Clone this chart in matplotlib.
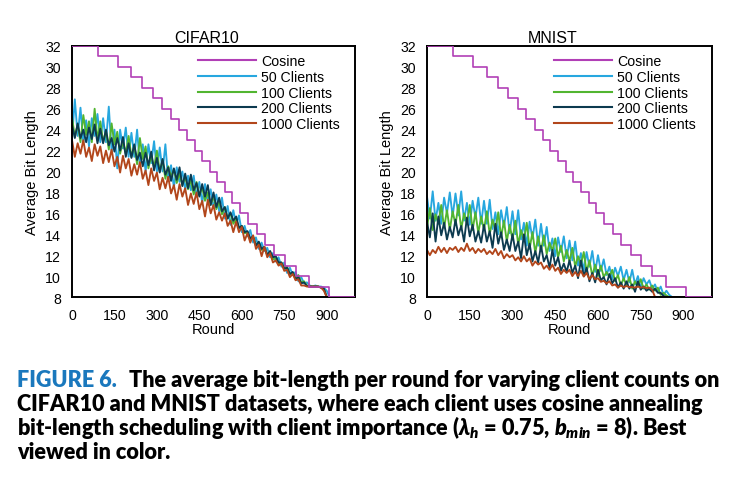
import numpy as np
import matplotlib
matplotlib.use("Agg")
import matplotlib.pyplot as plt

# noisy client curves every 10 rounds
ROUND_STEP = 10
FINAL_ROUND = 1000
B_MIN = 8

# cosine schedule: level held until the listed round
cosine_levels = list(range(32, 7, -1))
cosine_drops = [92, 161, 209, 249, 285, 318, 349, 378, 406, 433, 460, 487,
                513, 540, 567, 594, 622, 652, 682, 715, 751, 791, 839, 908]

cifar_50 = [23.2, 26.9, 23.4, 26.1, 22.7, 24.9, 22.4, 25.1, 23.4, 25.5,
            22.8, 25.1, 22.8, 26.2, 21.9, 24.0, 20.3, 24.0, 22.2, 24.2,
            21.4, 23.7, 21.4, 24.0, 20.5, 22.6, 20.0, 22.6, 20.8, 22.9,
            20.0, 22.3, 20.0, 22.6, 19.1, 20.6, 18.5, 20.4, 19.0, 20.0,
            18.3, 19.6, 18.2, 19.6, 17.6, 19.0, 17.0, 18.8, 17.2, 18.3,
            16.5, 17.8, 16.2, 17.5, 15.5, 16.7, 14.9, 16.3, 14.9, 15.8,
            14.2, 14.8, 13.8, 14.4, 13.2, 13.7, 12.6, 13.2, 12.4, 12.7,
            11.8, 12.2, 11.4, 11.8, 10.9, 11.3, 10.3, 10.8, 10.1, 10.4,
            9.5, 9.9, 9.3, 9.4, 9.1, 9.0, 9.1, 9.0, 9.0, 8.9,
            8.6, 8.0]
cifar_100 = [25.2, 23.3, 24.5, 22.8, 25.4, 23.5, 24.8, 22.8, 26.0, 23.0,
             24.8, 22.8, 23.9, 22.1, 24.6, 22.6, 23.8, 21.7, 22.9, 21.7,
             23.4, 21.4, 22.5, 20.7, 23.2, 21.2, 22.4, 20.3, 21.5, 20.4,
             22.0, 20.0, 21.1, 19.3, 20.5, 19.5, 20.2, 18.9, 19.8, 18.7,
             19.5, 18.3, 19.2, 17.8, 19.0, 17.7, 18.5, 17.2, 18.0, 16.8,
             17.6, 16.4, 17.1, 15.9, 16.6, 15.5, 16.0, 15.0, 15.5, 14.6,
             14.8, 14.1, 14.2, 13.5, 13.7, 13.0, 13.2, 12.5, 12.6, 12.1,
             12.1, 11.6, 11.7, 11.1, 11.3, 10.8, 10.9, 10.2, 10.3, 9.8,
             10.1, 9.4, 9.5, 9.1, 9.0, 9.0, 9.0, 9.0, 8.9, 8.8,
             8.0]
cifar_200 = [24.5, 23.2, 24.6, 23.2, 24.0, 22.8, 24.2, 23.1, 24.5, 22.7,
             24.1, 22.7, 24.0, 22.5, 23.2, 21.9, 23.2, 22.0, 23.3, 21.4,
             22.7, 21.3, 22.6, 21.1, 21.8, 20.5, 21.8, 20.6, 21.9, 20.1,
             21.3, 19.9, 21.2, 19.7, 20.4, 19.1, 20.3, 19.2, 20.4, 18.6,
             19.8, 18.4, 19.7, 18.2, 18.9, 17.6, 18.8, 17.6, 18.7, 16.8,
             18.0, 16.6, 17.5, 16.2, 16.6, 15.5, 16.1, 15.3, 15.7, 14.6,
             14.8, 14.2, 14.3, 13.6, 13.8, 12.9, 13.3, 12.6, 12.8, 12.0,
             12.4, 11.8, 11.9, 11.3, 11.3, 10.7, 10.8, 10.2, 10.4, 9.7,
             9.9, 9.3, 9.4, 9.05, 9.0, 9.0, 9.0, 9.0, 8.9, 8.8,
             8.0]
cifar_1000 = [23.0, 21.4, 22.7, 21.7, 23.0, 21.4, 22.3, 21.0, 22.6, 21.5,
              22.4, 20.8, 22.0, 20.9, 22.1, 20.5, 21.4, 19.9, 21.5, 20.3,
              21.2, 19.6, 20.7, 19.7, 20.9, 19.3, 20.1, 18.7, 20.3, 19.1,
              19.9, 18.3, 19.4, 18.4, 19.5, 17.9, 18.7, 17.3, 18.8, 17.6,
              18.4, 16.8, 17.9, 16.9, 18.0, 16.4, 17.2, 15.7, 17.3, 16.0,
              16.8, 15.4, 16.1, 15.3, 16.0, 14.8, 15.3, 14.2, 15.2, 14.2,
              14.7, 13.4, 14.1, 13.2, 13.9, 12.6, 13.0, 11.9, 12.8, 11.8,
              12.2, 11.3, 11.5, 11.0, 11.2, 10.5, 10.6, 9.9, 10.2, 9.6,
              9.7, 9.1, 9.1, 9.0, 9.0, 9.0, 9.0, 9.0, 8.9, 8.6,
              8.0]

mnist_50 = [17.6, 15.5, 18.1, 15.3, 17.0, 15.0, 17.5, 16.0, 18.0, 15.7,
            17.9, 15.8, 18.1, 15.3, 17.0, 14.9, 17.2, 15.6, 17.5, 15.0,
            17.2, 15.0, 17.3, 14.5, 16.1, 14.0, 16.3, 14.7, 16.6, 14.1,
            16.2, 14.0, 16.3, 13.5, 15.1, 12.9, 15.2, 13.6, 15.4, 12.9,
            15.0, 12.9, 14.7, 12.4, 13.6, 11.9, 13.7, 12.3, 13.8, 11.7,
            13.4, 11.5, 13.3, 11.0, 12.2, 10.5, 12.3, 10.9, 12.4, 10.4,
            12.0, 10.5, 11.6, 10.1, 10.9, 9.7, 10.8, 10.0, 10.9, 9.6,
            10.6, 9.4, 10.6, 9.2, 10.0, 8.9, 9.8, 9.2, 9.6, 8.8,
            9.2, 8.5, 9.0, 8.2, 8.6, 8.2, 8.0]
mnist_100 = [14.6, 16.5, 14.4, 15.9, 15.0, 16.8, 14.6, 16.3, 14.4, 16.2,
             14.9, 16.8, 14.5, 16.0, 15.0, 16.8, 14.4, 16.1, 14.1, 15.7,
             14.4, 16.2, 14.0, 15.4, 14.4, 16.1, 13.7, 15.3, 13.3, 14.9,
             13.5, 15.3, 13.0, 14.4, 13.4, 15.1, 12.6, 14.2, 12.2, 13.8,
             12.4, 13.9, 12.1, 13.2, 12.4, 13.6, 11.8, 12.9, 11.4, 12.5,
             11.4, 12.7, 10.9, 11.9, 11.1, 12.3, 10.4, 11.5, 10.0, 11.1,
             10.0, 11.0, 9.9, 10.4, 9.9, 10.6, 9.5, 10.1, 9.1, 9.8,
             9.1, 9.9, 8.8, 9.5, 9.0, 9.7, 8.8, 9.2, 8.7, 9.1,
             8.6, 8.9, 8.2, 8.4, 8.15, 8.0]
mnist_200 = [15.2, 13.7, 16.0, 13.3, 15.7, 13.9, 15.1, 13.5, 14.7, 13.7,
             15.4, 13.9, 14.8, 13.3, 15.6, 13.8, 14.9, 13.3, 14.3, 13.2,
             14.9, 13.3, 14.3, 12.7, 15.0, 13.1, 14.2, 12.5, 13.5, 12.4,
             14.0, 12.4, 13.3, 11.7, 14.0, 12.0, 13.1, 11.4, 12.4, 11.3,
             12.9, 11.4, 12.0, 10.8, 12.5, 11.0, 11.8, 10.5, 11.2, 10.4,
             11.5, 10.3, 11.0, 9.8, 11.5, 10.0, 10.8, 9.5, 10.3, 9.4,
             10.6, 9.6, 9.9, 9.2, 10.2, 9.3, 9.8, 8.9, 9.4, 8.8,
             9.5, 8.8, 9.2, 8.5, 9.5, 8.7, 9.0, 8.6, 8.8, 8.5,
             8.8, 8.4, 8.4, 8.1, 8.0]
mnist_1000 = [12.5, 12.0, 12.5, 12.2, 12.8, 12.3, 12.7, 12.2, 12.7, 12.5,
              12.8, 12.3, 12.7, 12.4, 13.1, 12.4, 12.7, 12.2, 12.6, 12.3,
              12.6, 12.1, 12.4, 12.1, 12.6, 12.0, 12.4, 11.7, 12.1, 11.8,
              12.0, 11.5, 11.8, 11.4, 11.9, 11.4, 11.7, 11.0, 11.4, 11.1,
              11.3, 10.7, 11.0, 10.6, 11.1, 10.5, 10.8, 10.2, 10.6, 10.3,
              10.6, 10.0, 10.4, 10.0, 10.5, 9.95, 10.3, 9.7, 10.1, 9.7,
              9.8, 9.45, 9.55, 9.3, 9.5, 9.1, 9.2, 8.9, 9.1, 8.95,
              9.05, 8.95, 8.95, 8.9, 9.0, 8.9, 8.95, 8.85, 8.9, 8.7,
              8.0]

client_labels = ["50 Clients", "100 Clients", "200 Clients", "1000 Clients"]
client_colors = ["#27a7df", "#52b530", "#0c3a4f", "#b2461b"]
cosine_color = "#b13fb6"

xticks = [0, 150, 300, 450, 600, 750, 900]
yticks = list(range(8, 33, 2))

caption_head = "FIGURE 6."
caption_first = "The average bit-length per round for varying client counts on"
caption_lines = [
    "CIFAR10 and MNIST datasets, where each client uses cosine annealing",
    r"bit-length scheduling with client importance ($\lambda_h$ = 0.75, $b_{min}$ = 8). Best",
    "viewed in color.",
]

plt.rcParams["font.family"] = ["Liberation Sans", "DejaVu Sans"]
plt.rcParams["mathtext.fontset"] = "custom"
plt.rcParams["mathtext.rm"] = "Lato:heavy"
plt.rcParams["mathtext.it"] = "Lato:italic:heavy"
plt.rcParams["mathtext.bf"] = "Lato:heavy"


def with_tail(vals):
    # every client sits at b_min after its last drop
    x = np.arange(len(vals)) * ROUND_STEP
    return np.append(x, FINAL_ROUND), np.append(vals, B_MIN)


fig = plt.figure(figsize=(7.37, 4.81), dpi=100)
W, H = 737., 481.

# name, left px, width px, title centre (axes fraction), series
panels = [
    ("CIFAR10", 72, 283, 0.477, [cifar_50, cifar_100, cifar_200, cifar_1000]),
    ("MNIST", 427, 285, 0.442, [mnist_50, mnist_100, mnist_200, mnist_1000]),
]

for title, left, width, tx, series in panels:
    ax = fig.add_axes([left / W, 1 - 298 / H, width / W, 251 / H])
    for vals, lab, col in zip(series, client_labels, client_colors):
        x, y = with_tail(vals)
        ax.plot(x, y, color=col, lw=1.35, label=lab, zorder=2)
    cx = [0] + cosine_drops + [FINAL_ROUND]
    cy = cosine_levels + [B_MIN]
    ax.plot(cx, cy, color=cosine_color, lw=1.2, drawstyle="steps-post",
            label="Cosine", zorder=3)

    ax.set_xlim(0, FINAL_ROUND)
    ax.set_ylim(8, 32)
    ax.set_xticks(xticks)
    ax.set_yticks(yticks)
    ax.tick_params(length=0, labelsize=10.2, pad=8)
    for s in ax.spines.values():
        s.set_linewidth(1.4)
        s.set_color("black")
    ax.set_title(title, fontsize=11.5, pad=3, x=tx)
    ax.set_xlabel("Round", fontsize=10.5, labelpad=0)
    ax.set_ylabel("Average Bit Length", fontsize=10.5, labelpad=4)

    h, l = ax.get_legend_handles_labels()
    order = [4, 0, 1, 2, 3]
    leg = ax.legend([h[i] for i in order], [l[i] for i in order],
                    loc="upper left", bbox_to_anchor=(0.445, 0.967),
                    frameon=False, fontsize=10.2, handlelength=4.1,
                    handletextpad=0.35, labelspacing=0.12,
                    borderpad=0, borderaxespad=0)
    for ln in leg.get_lines():
        ln.set_linewidth(1.5)

cap_font = dict(family=["Lato", "DejaVu Sans"], weight="heavy", fontsize=14)
head = fig.text(17 / W, 1 - 387 / H, caption_head, color="#1a78bd",
                va="baseline", **cap_font)
first = fig.text(125 / W, 1 - 387 / H, caption_first, color="black",
                 va="baseline", **cap_font)
rest = [fig.text(17 / W, 1 - (411 + 24 * i) / H, line, color="black",
                 va="baseline", **cap_font)
        for i, line in enumerate(caption_lines)]

# size the caption so the first line spans 17..720 px like the paper
fig.canvas.draw()
rend = fig.canvas.get_renderer()
wh = head.get_window_extent(rend).width
wf = first.get_window_extent(rend).width
gap = 12
scale = (720 - 17 - gap) / (wh + wf)
for t in [head, first] + rest:
    t.set_fontsize(14 * scale)
first.set_x((17 + wh * scale + gap) / W)

fig.savefig("out.png", dpi=100, facecolor="white")
